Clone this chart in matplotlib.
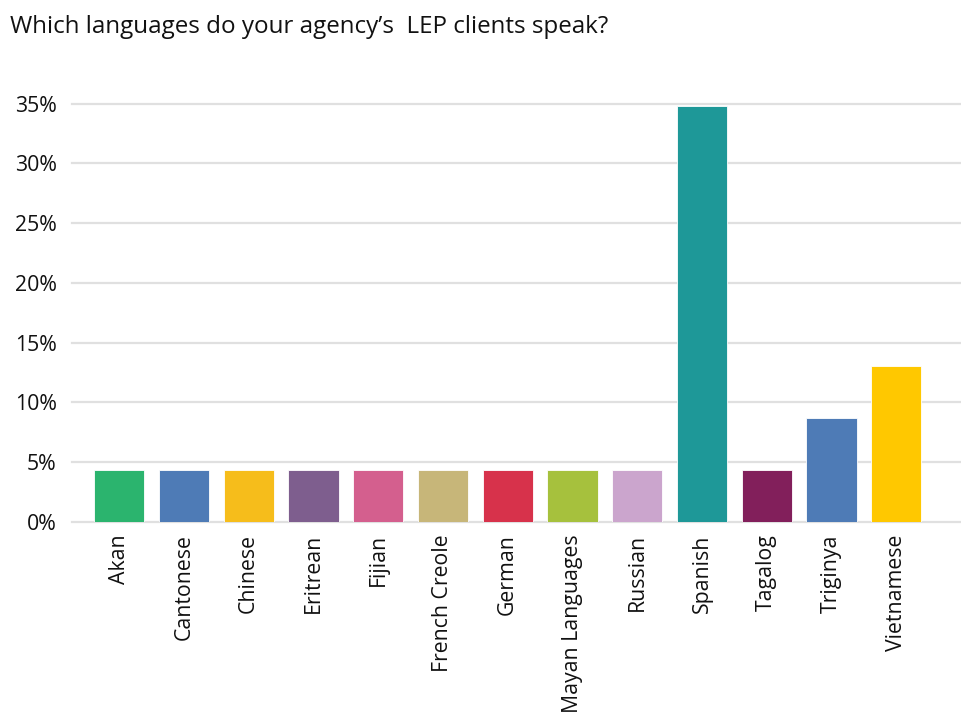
import matplotlib

matplotlib.use("Agg")
import matplotlib.pyplot as plt
from matplotlib.ticker import FuncFormatter

plt.rcParams["font.family"] = ["Open Sans", "DejaVu Sans"]

TITLE = "Which languages do your agency\u2019s  LEP clients speak?"

LANGUAGES = [
    "Akan",
    "Cantonese",
    "Chinese",
    "Eritrean",
    "Fijian",
    "French Creole",
    "German",
    "Mayan Languages",
    "Russian",
    "Spanish",
    "Tagalog",
    "Triginya",
    "Vietnamese",
]
SHARE_PCT = [4.35, 4.35, 4.35, 4.35, 4.35, 4.35, 4.35, 4.35, 4.35, 34.78, 4.35, 8.70, 13.04]
COLORS = [
    "#2bb46e",
    "#4e7bb6",
    "#f6bd1b",
    "#7e5e8e",
    "#d45f8e",
    "#c7b679",
    "#d7324b",
    "#a6c13d",
    "#cba5cd",
    "#1e9898",
    "#821f5b",
    "#4e7bb6",
    "#ffc800",
]
Y_TICKS = [0, 5, 10, 15, 20, 25, 30, 35]

fig = plt.figure(figsize=(9.61, 7.13), dpi=100)
ax = fig.add_axes([0.0749, 0.2683, 0.9251, 0.5863])

x = range(len(LANGUAGES))
ax.bar(x, SHARE_PCT, width=0.775, color=COLORS, edgecolor="white",
       linewidth=0.6, zorder=3)

ax.set_xlim(-0.73, 13.0)
ax.set_ylim(0, 35)
ax.set_yticks(Y_TICKS)
ax.yaxis.set_major_formatter(FuncFormatter(lambda v, _: f"{v:.0f}%"))
ax.set_xticks(list(x))
ax.set_xticklabels(LANGUAGES, rotation=90, ha="center", va="top")

# light horizontal guides running to the right edge of the figure
ax.grid(axis="y", color="#e0e0e0", linewidth=1.6, zorder=0)
for gl in ax.get_ygridlines():
    gl.set_clip_on(False)
for side in ["top", "right", "left", "bottom"]:
    ax.spines[side].set_visible(False)
ax.tick_params(axis="y", length=0, pad=11, labelsize=15.3, labelcolor="#111111")
ax.tick_params(axis="x", length=0, pad=9, labelsize=15.3, labelcolor="#111111")

fig.text(0.0104, 0.962, TITLE, fontsize=17.4, color="#111111",
         ha="left", va="center")

fig.savefig("out.png", dpi=100)
